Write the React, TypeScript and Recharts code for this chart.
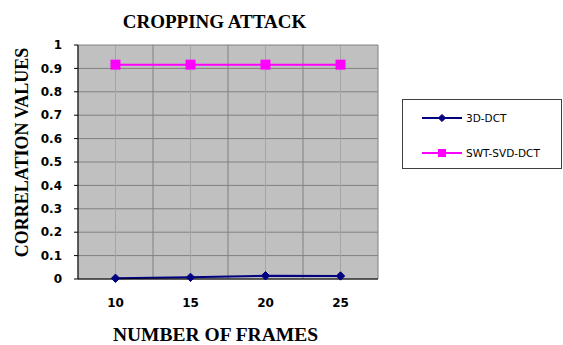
import React from "react";
import { LineChart, Line, XAxis, YAxis, CartesianGrid, Legend, Label, ReferenceLine } from "recharts";

// frame counts on the x axis, correlation per method
const FRAMES = [10, 15, 20, 25];
const DCT_3D = [0.003, 0.007, 0.014, 0.013];
const SWT_SVD_DCT = [0.916, 0.916, 0.916, 0.916];
const Y_TICKS = [0, 0.1, 0.2, 0.3, 0.4, 0.5, 0.6, 0.7, 0.8, 0.9, 1];

const STEP = 5;
// category edges sit half a step either side of each frame count
const EDGES = [...FRAMES.map((f) => f - STEP / 2), FRAMES[FRAMES.length - 1] + STEP / 2];
const X_DOMAIN = [EDGES[0], EDGES[EDGES.length - 1]];

const data = FRAMES.map((f, i) => ({ frames: f, dct: DCT_3D[i], swt: SWT_SVD_DCT[i] }));

const NAVY = "#000080";
const MAGENTA = "#ff00ff";
const SERIF = "Liberation Serif, DejaVu Serif, serif";
const SANS = "DejaVu Sans, sans-serif";

function Diamond({ cx, cy, size = 4.2, color = NAVY }: { cx: number; cy: number; size?: number; color?: string }) {
  return (
    <path
      d={`M${cx},${cy - size} L${cx + size},${cy} L${cx},${cy + size} L${cx - size},${cy} Z`}
      fill={color}
      stroke={color}
    />
  );
}

function Square({ cx, cy, size = 10, color = MAGENTA }: { cx: number; cy: number; size?: number; color?: string }) {
  return <rect x={cx - size / 2} y={cy - size / 2} width={size} height={size} fill={color} />;
}

const MARKERS: Record<string, (cx: number, cy: number) => React.ReactElement> = {
  dct: (cx, cy) => <Diamond cx={cx} cy={cy} size={3.6} />,
  swt: (cx, cy) => <Square cx={cx} cy={cy} size={8} />,
};

function LegendBox({ payload }: any) {
  return (
    <div
      style={{
        width: 160,
        height: 70,
        border: "1px solid #404040",
        background: "#fff",
        boxSizing: "border-box",
        position: "relative",
      }}
    >
      {(payload || []).map((entry: any, i: number) => (
        <div
          key={entry.value}
          style={{
            position: "absolute",
            left: 19,
            top: i === 0 ? 11 : 46,
            display: "flex",
            alignItems: "center",
            height: 14,
          }}
        >
          <svg width={40} height={14}>
            <line x1={0} y1={7} x2={40} y2={7} stroke={entry.color} strokeWidth={2} />
            {MARKERS[entry.dataKey](20, 7)}
          </svg>
          <span style={{ marginLeft: 4, fontFamily: SANS, fontSize: 10.5, color: "#000" }}>{entry.value}</span>
        </div>
      ))}
    </div>
  );
}

export default function App() {
  return (
    <div style={{ position: "absolute", left: 0, top: 0, width: 563, height: 345, background: "#fff" }}>
      <LineChart width={563} height={345} data={data} margin={{ top: 45, right: 185, left: 0, bottom: 0 }}>
        <text x={214.5} y={27.5} textAnchor="middle" fontFamily={SERIF} fontWeight={700} fontSize={19} fill="#000">
          CROPPING ATTACK
        </text>
        <CartesianGrid vertical={false} fill="#c0c0c0" fillOpacity={1} stroke="#808080" />
        {FRAMES.map((f) => (
          <ReferenceLine key={`c-${f}`} xAxisId="frames" x={f} stroke="#a4a4a4" strokeWidth={1} />
        ))}
        {EDGES.map((e) => (
          <ReferenceLine key={`e-${e}`} xAxisId="edges" x={e} stroke="#808080" strokeWidth={1} />
        ))}
        <XAxis
          xAxisId="edges"
          dataKey="frames"
          type="number"
          domain={X_DOMAIN}
          ticks={EDGES}
          tick={false}
          tickSize={5}
          height={1}
          axisLine={{ stroke: "#000" }}
          tickLine={{ stroke: "#000" }}
        />
        <XAxis
          xAxisId="frames"
          dataKey="frames"
          type="number"
          domain={X_DOMAIN}
          ticks={FRAMES}
          height={65}
          axisLine={false}
          tickLine={false}
          tickSize={6}
          tickMargin={12}
          tick={{ fill: "#000", fontFamily: SANS, fontWeight: 700, fontSize: 12 }}
        >
          <Label
            content={({ viewBox }: any) => (
              <text
                x={viewBox.x + viewBox.width / 2 - 12.5}
                y={341}
                textAnchor="middle"
                fontFamily={SERIF}
                fontWeight={700}
                fontSize={19.5}
                fill="#000"
              >
                NUMBER OF FRAMES
              </text>
            )}
          />
        </XAxis>
        <YAxis
          type="number"
          domain={[0, 1]}
          ticks={Y_TICKS}
          interval={0}
          width={78}
          tickSize={4}
          tickMargin={12}
          axisLine={{ stroke: "#000" }}
          tickLine={{ stroke: "#000" }}
          tick={{ fill: "#000", fontFamily: SANS, fontWeight: 700, fontSize: 12 }}
        >
          <Label
            content={({ viewBox }: any) => {
              const x = viewBox.x + 28;
              const y = viewBox.y + viewBox.height / 2 - 9.5;
              return (
                <text
                  x={x}
                  y={y}
                  transform={`rotate(-90, ${x}, ${y})`}
                  textAnchor="middle"
                  fontFamily={SERIF}
                  fontWeight={700}
                  fontSize={18}
                  fill="#000"
                >
                  CORRELATION VALUES
                </text>
              );
            }}
          />
        </YAxis>
        <Legend
          layout="vertical"
          align="center"
          verticalAlign="middle"
          content={<LegendBox />}
          wrapperStyle={{ left: 402, top: 99, width: 160 }}
        />
        <Line
          xAxisId="frames"
          dataKey="dct"
          name="3D-DCT"
          stroke={NAVY}
          strokeWidth={2}
          isAnimationActive={false}
          dot={(p: any) => <Diamond key={`d-${p.index}`} cx={p.cx} cy={p.cy} size={4.2} />}
        />
        <Line
          xAxisId="frames"
          dataKey="swt"
          name="SWT-SVD-DCT"
          stroke={MAGENTA}
          strokeWidth={2}
          isAnimationActive={false}
          dot={(p: any) => <Square key={`s-${p.index}`} cx={p.cx} cy={p.cy} size={10} />}
        />
      </LineChart>
    </div>
  );
}
